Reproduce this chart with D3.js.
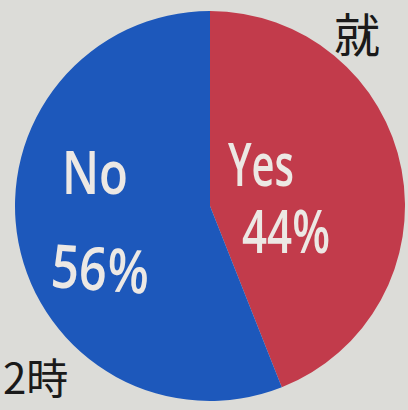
<!DOCTYPE html>
<html><head><meta charset="utf-8">
<script src="https://cdn.jsdelivr.net/npm/d3@7"></script>
<style>html,body{margin:0;padding:0;background:#dcdcd8;overflow:hidden}</style>
</head><body>
<script>
const categories = ["Yes", "No"];
const values = [44, 56];
const labels = ["44%", "56%"];
const colors = ["#c23b4b", "#1d58bb"];

const W = 408, H = 410;
const svg = d3.select("body").append("svg").attr("width", W).attr("height", H);
svg.append("rect").attr("width", W).attr("height", H).attr("fill", "#dcdcd8");

// background handwritten text from the poster
svg.append("text").attr("x", 334).attr("y", 52).attr("font-family", "Noto Sans CJK JP")
  .attr("font-size", 46).attr("fill", "#1a1a1a").text("就");
svg.append("text").attr("x", 3).attr("y", 394).attr("font-family", "Noto Sans CJK JP")
  .attr("font-size", 42).attr("fill", "#1a1a1a").text("2時");

const cx = 210, cy = 206, r = 195;
const g = svg.append("g").attr("transform", `translate(${cx},${cy})`);
const pie = d3.pie().sort(null).value(d => d.v).startAngle(0).endAngle(2 * Math.PI);
const data = categories.map((c, i) => ({c, v: values[i], col: colors[i], lab: labels[i]}));
const arc = d3.arc().innerRadius(0).outerRadius(r);
g.selectAll("path").data(pie(data)).join("path").attr("d", arc).attr("fill", d => d.data.col);

// labels
const txt = [
  {t: categories[0], x: 228, y: 186, len: 66, rot: 0},
  {t: labels[0], x: 242, y: 253, len: 88, rot: 0},
  {t: categories[1], x: 62, y: 194, len: 66, rot: 0},
  {t: labels[1], x: 50, y: 287, len: 98, rot: 4}
];
svg.selectAll("text.lab").data(txt).join("text").attr("class", "lab")
  .attr("x", d => d.x).attr("y", d => d.y)
  .attr("transform", d => `rotate(${d.rot},${d.x},${d.y})`)
  .attr("font-family", "Open Sans, sans-serif").attr("font-size", 60).attr("font-weight", 600)
  .attr("textLength", d => d.len).attr("lengthAdjust", "spacingAndGlyphs")
  .attr("fill", "#ece8e4").text(d => d.t);
</script>
</body></html>
